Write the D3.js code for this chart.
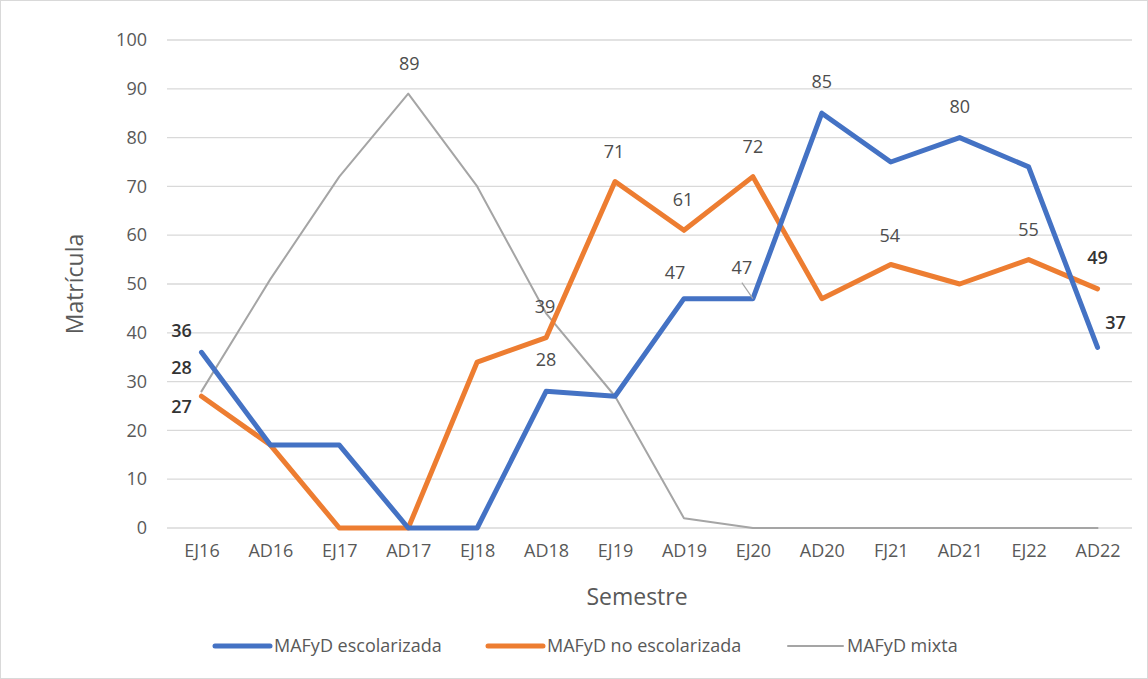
<!DOCTYPE html>
<html>
<head>
<meta charset="utf-8">
<script src="https://cdn.jsdelivr.net/npm/d3@7"></script>
<style>
  body { margin: 0; background: #fff; }
  text { font-family: "Open Sans", "Noto Sans", sans-serif; }
</style>
</head>
<body>
<div id="chart"></div>
<script>
var semestres = ["EJ16", "AD16", "EJ17", "AD17", "EJ18", "AD18", "EJ19", "AD19", "EJ20", "AD20", "FJ21", "AD21", "EJ22", "AD22"];
var escolarizada = [36, 17, 17, 0, 0, 28, 27, 47, 47, 85, 75, 80, 74, 37];
var noEscolarizada = [27, 17, 0, 0, 34, 39, 71, 61, 72, 47, 54, 50, 55, 49];
var mixta = [28, 51, 72, 89, 70, 44, 27, 2, 0, 0, 0, 0, 0, 0];
var seriesNames = ["MAFyD escolarizada", "MAFyD no escolarizada", "MAFyD mixta"];
var yTicks = [0, 10, 20, 30, 40, 50, 60, 70, 80, 90, 100];

var colors = ["#4472c4", "#ed7d31", "#a5a5a5"];
var widths = [5, 5, 2];

var w = 1148, h = 679;
var margin = {top: 40, left: 167, right: 16, bottom: 151};

var svg = d3.select("#chart").append("svg")
    .attr("width", w)
    .attr("height", h);

svg.append("rect")
    .attr("x", 0.5).attr("y", 0.5)
    .attr("width", w - 1).attr("height", h - 1)
    .attr("fill", "#fff")
    .attr("stroke", "#d9d9d9");

var x = d3.scalePoint()
    .domain(semestres)
    .range([margin.left, w - margin.right])
    .padding(0.5);

var y = d3.scaleLinear()
    .domain([0, 100])
    .range([h - margin.bottom, margin.top]);

// grid lines
svg.append("g")
  .selectAll("line")
  .data(yTicks)
  .enter()
  .append("line")
    .attr("x1", margin.left)
    .attr("x2", w - margin.right)
    .attr("y1", function(d){ return y(d); })
    .attr("y2", function(d){ return y(d); })
    .attr("stroke", "#d9d9d9")
    .attr("stroke-width", 1.3);

// y tick labels
var yAxis = svg.append("g")
    .attr("transform", "translate(" + (margin.left - 20) + ",0)")
    .call(d3.axisLeft(y).tickValues(yTicks).tickSize(0).tickPadding(0));
yAxis.select(".domain").remove();
yAxis.selectAll("text")
    .attr("fill", "#595959")
    .style("font-size", "18px");

// x tick labels
var xAxis = svg.append("g")
    .attr("transform", "translate(0," + (h - margin.bottom + 16) + ")")
    .call(d3.axisBottom(x).tickSize(0).tickPadding(0));
xAxis.select(".domain").remove();
xAxis.selectAll("text")
    .attr("fill", "#595959")
    .attr("dy", "0.71em")
    .style("font-size", "18px");

// axis titles
svg.append("text")
    .attr("transform", "translate(83," + ((margin.top + h - margin.bottom) / 2) + ") rotate(-90)")
    .attr("text-anchor", "middle")
    .attr("fill", "#595959")
    .style("font-size", "23px")
    .text("Matrícula");

svg.append("text")
    .attr("x", 637)
    .attr("y", 605)
    .attr("text-anchor", "middle")
    .attr("fill", "#595959")
    .style("font-size", "23px")
    .text("Semestre");

// lines
var allSeries = [escolarizada, noEscolarizada, mixta];
var line = d3.line()
    .x(function(d, i){ return x(semestres[i]); })
    .y(function(d){ return y(d); });

[2, 1, 0].forEach(function(s) {
    svg.append("path")
        .datum(allSeries[s])
        .attr("d", line)
        .attr("fill", "none")
        .attr("stroke", colors[s])
        .attr("stroke-width", widths[s])
        .attr("stroke-linejoin", "round")
        .attr("stroke-linecap", "round");
});

// data labels: [series, category index, dx, dy, bold]
var labels = [
    [0, 0, -20, -22, true],
    [2, 0, -20, -24, true],
    [1, 0, -20, 10, true],
    [2, 3, 1, -30, false],
    [1, 5, -1, -31, false],
    [0, 5, 0, -32, false],
    [1, 6, -1, -30, false],
    [1, 7, -1, -31, false],
    [1, 8, 0, -30, false],
    [0, 7, -9, -26, false],
    [0, 8, -11, -31, false],
    [0, 9, 0, -32, false],
    [0, 11, 0, -31, false],
    [1, 10, -1, -29, false],
    [1, 12, 0, -30, false],
    [1, 13, 0, -31, true],
    [0, 13, 18, -25, true]
];

// leader line for the EJ20 label
svg.append("line")
    .attr("x1", x("EJ20") - 11).attr("y1", y(47) - 16)
    .attr("x2", x("EJ20")).attr("y2", y(47))
    .attr("stroke", "#a6a6a6")
    .attr("stroke-width", 1.2);

svg.append("g")
  .selectAll("text")
  .data(labels)
  .enter()
  .append("text")
    .attr("x", function(d){ return x(semestres[d[1]]) + d[2]; })
    .attr("y", function(d){ return y(allSeries[d[0]][d[1]]) + d[3]; })
    .attr("dy", "0.36em")
    .attr("text-anchor", "middle")
    .attr("fill", function(d){ return d[4] ? "#333333" : "#4d4d4d"; })
    .style("font-size", "18px")
    .style("font-weight", function(d){ return d[4] ? 600 : "normal"; })
    .text(function(d){ return allSeries[d[0]][d[1]]; });

// legend
var legendX = [215, 488, 788];
var lg = svg.append("g")
  .selectAll("g")
  .data(seriesNames)
  .enter()
  .append("g")
    .attr("transform", function(d, i){ return "translate(" + legendX[i] + ",646)"; });

lg.append("line")
    .attr("x1", 0).attr("x2", 55)
    .attr("stroke", function(d, i){ return colors[i]; })
    .attr("stroke-width", function(d, i){ return widths[i]; })
    .attr("stroke-linecap", "round");

lg.append("text")
    .attr("x", 59)
    .attr("dy", "0.36em")
    .attr("fill", "#595959")
    .style("font-size", "18px")
    .text(function(d){ return d; });
</script>
</body>
</html>
